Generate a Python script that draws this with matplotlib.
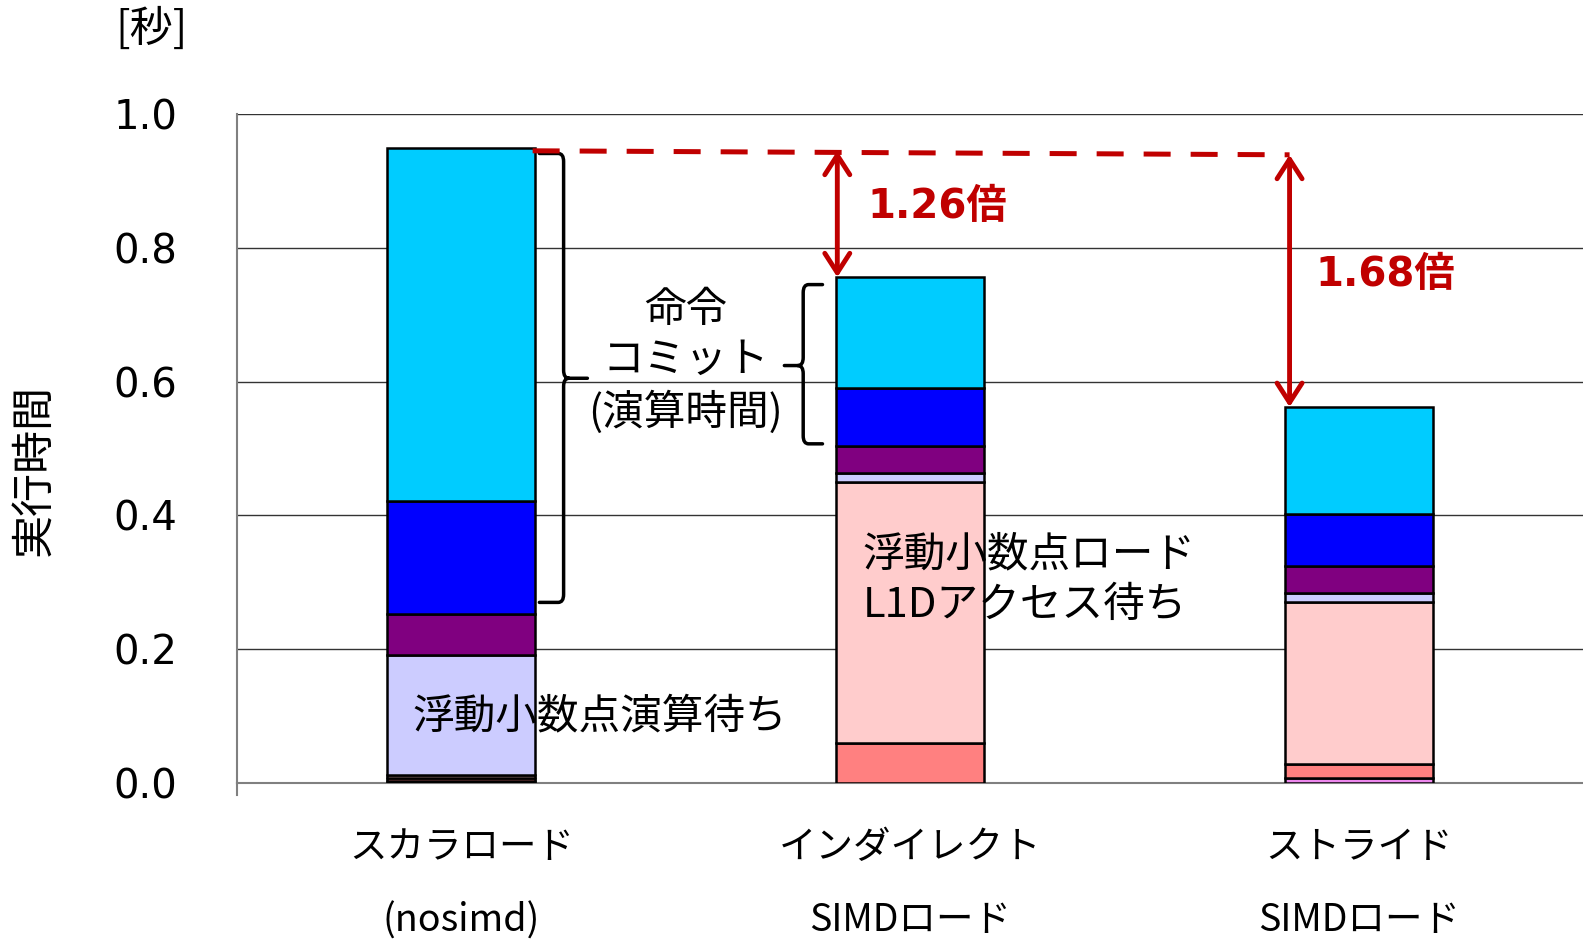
import numpy as np
from matplotlib import pyplot as plt
from matplotlib.path import Path
from matplotlib.patches import PathPatch

JP = ['Noto Sans CJK JP', 'DejaVu Sans']
RED = '#C00000'

# execution time breakdown [s], stacked from bottom
categories = ['スカラロード', 'インダイレクト', 'ストライド']
sub_labels = ['(nosimd)', 'SIMDロード', 'SIMDロード']
other = [0.003, 0.000, 0.008]
fp_cache = [0.005, 0.060, 0.020]
fp_l1d = [0.004, 0.390, 0.242]
fp_calc = [0.180, 0.013, 0.014]
commit_low = [0.060, 0.041, 0.041]
commit_mid = [0.170, 0.086, 0.077]
commit_top = [0.527, 0.166, 0.160]
speedup = ['1.26倍', '1.68倍']

series = [other, fp_cache, fp_l1d, fp_calc, commit_low, commit_mid, commit_top]
colors = ['#EE88EE', '#FF8080', '#FFCCCC', '#CCCCFF', '#800080', '#0000FF', '#00CCFF']
yticks = [0.0, 0.2, 0.4, 0.6, 0.8, 1.0]


def brace(ax, x_end, x_mid, x_tip, top, tip, bot, rx=0.012, ry=0.012):
	# curly brace: ends at x_end, spine at x_mid, point at x_tip
	sx = np.sign(x_tip - x_mid)
	verts = [(x_end, top), (x_mid - sx * rx, top), (x_mid, top), (x_mid, top - ry),
		(x_mid, tip + ry), (x_mid, tip), (x_mid + sx * rx, tip), (x_tip, tip),
		(x_mid + sx * rx, tip), (x_mid, tip), (x_mid, tip - ry),
		(x_mid, bot + ry), (x_mid, bot), (x_mid - sx * rx, bot), (x_end, bot)]
	codes = [Path.MOVETO, Path.LINETO, Path.CURVE3, Path.CURVE3,
		Path.LINETO, Path.CURVE3, Path.CURVE3, Path.LINETO,
		Path.MOVETO, Path.CURVE3, Path.CURVE3,
		Path.LINETO, Path.CURVE3, Path.CURVE3, Path.LINETO]
	ax.add_patch(PathPatch(Path(verts, codes), fill=False, edgecolor='black',
		lw=2.5, capstyle='round', joinstyle='round', zorder=4))


fig = plt.figure(figsize=(15.83, 9.39), dpi=100)
ax = fig.add_axes([0.1497, 0.1661, 0.8503, 0.7125])

x = np.arange(len(categories))
bottom = np.zeros(len(categories))
for vals, c in zip(series, colors):
	ax.bar(x, vals, 0.33, bottom=bottom, color=c, edgecolor='black', linewidth=1.8, zorder=3)
	bottom += np.array(vals)
totals = bottom

ax.set_xlim(-0.5, 2.5)
ax.set_ylim(0, 1.0)
ax.set_yticks(yticks)
ax.set_yticklabels(['%.1f' % v for v in yticks], fontsize=29, family='DejaVu Sans')
ax.tick_params(axis='y', length=0, pad=43)
ax.set_xticks([])
for v in yticks[1:]:
	ax.axhline(v, color='#333333', lw=1, zorder=1)
for s in ['top', 'right']:
	ax.spines[s].set_visible(False)
for s in ['left', 'bottom']:
	ax.spines[s].set_color('#808080')
	ax.spines[s].set_linewidth(1.5)
ax.plot([-0.5, -0.5], [0, -0.018], color='#808080', lw=1.5, clip_on=False)

for i in x:
	ax.text(i, -0.096, categories[i], transform=ax.get_xaxis_transform(),
		ha='center', va='center', fontsize=27, family=JP)
	ax.text(i, -0.206, sub_labels[i], transform=ax.get_xaxis_transform(),
		ha='center', va='center', fontsize=27, family=JP)

fig.text(0.022, 0.5, '実行時間', rotation=90, ha='center', va='center', fontsize=31, family=JP)
fig.text(0.0956, 0.968, '[秒]', ha='center', va='center', fontsize=31, family=JP)

brace(ax, 0.174, 0.228, 0.281, 0.941, 0.605, 0.270)
brace(ax, 0.805, 0.762, 0.720, 0.745, 0.624, 0.507)

ax.text(0.5, 0.706, '命令', ha='center', va='center', fontsize=30, family=JP, zorder=5)
ax.text(0.5, 0.632, 'コミット', ha='center', va='center', fontsize=30, family=JP, zorder=5)
ax.text(0.5, 0.555, '(演算時間)', ha='center', va='center', fontsize=30, family=JP, zorder=5)
ax.text(0.309, 0.0995, '浮動小数点演算待ち', ha='center', va='center', fontsize=30, family=JP, zorder=5)
ax.text(0.895, 0.341, '浮動小数点ロード', ha='left', va='center', fontsize=30, family=JP, zorder=5)
ax.text(0.895, 0.265, 'L1Dアクセス待ち', ha='left', va='center', fontsize=30, family=JP, zorder=5)

# speedup arrows against the scalar baseline
ax.plot([0.159, 1.846], [0.945, 0.939], color=RED, lw=3.6, ls=(0, (5.4, 4)), zorder=4)
arrow = dict(arrowstyle='<->,head_length=0.7,head_width=0.45', color=RED, lw=3.5,
	shrinkA=0, shrinkB=0, mutation_scale=20)
ax.annotate('', xy=(0.838, totals[1]), xytext=(0.838, 0.945), arrowprops=arrow, zorder=5)
ax.annotate('', xy=(1.846, totals[2]), xytext=(1.846, 0.939), arrowprops=arrow, zorder=5)
ax.text(0.906, 0.861, speedup[0], ha='left', va='center', fontsize=29,
	fontweight='bold', color=RED, family=['DejaVu Sans', 'Noto Sans CJK JP'])
ax.text(1.903, 0.760, speedup[1], ha='left', va='center', fontsize=29,
	fontweight='bold', color=RED, family=['DejaVu Sans', 'Noto Sans CJK JP'])

plt.savefig('out.png')
